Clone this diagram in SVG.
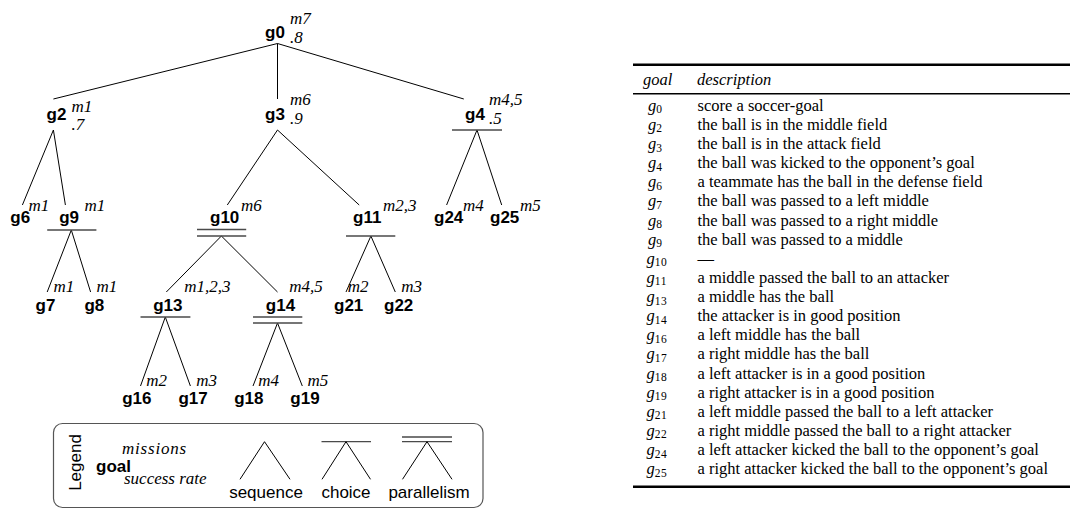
<svg xmlns="http://www.w3.org/2000/svg" width="1070" height="509" viewBox="0 0 1070 509">
<style>
.n{font-family:"Liberation Sans",Arial,sans-serif;font-weight:bold;font-size:17px;fill:#000}
.m{font-family:"Liberation Serif","Times New Roman",serif;font-style:italic;font-size:17px;fill:#000}
.e{stroke:#000;stroke-width:1;fill:none}
.bar{stroke:#4a4a4a;stroke-width:1.3;fill:none}
.lg{font-family:"Liberation Sans",Arial,sans-serif;font-size:17px;fill:#000}
.th{font-family:"Liberation Serif","Times New Roman",serif;font-style:italic;font-size:16.5px;fill:#000}
.td{font-family:"Liberation Serif","Times New Roman",serif;font-size:16.5px;fill:#000}
.tg{font-family:"Liberation Serif","Times New Roman",serif;font-style:italic;font-size:16.5px;fill:#000}
.sub{font-style:normal;font-size:11.5px;letter-spacing:0.6px}
</style>
<rect width="1070" height="509" fill="#fff"/>
<g id="connectors">
<path class="e" d="M277.5,43.5 L53.4,99 M277.5,43.5 L277.5,99 M277.5,43.5 L463.8,99"/>
<path class="e" d="M53.4,130 L22.4,205 M53.4,130 L65.4,205"/>
<path class="e" d="M277.5,130 L227.3,205 M277.5,130 L359.2,205"/>
<path class="e" d="M477,130 L446.6,205 M477,130 L501.7,205"/>
<path class="e" d="M71.3,230 L47.2,292 M71.3,230 L90.6,292"/>
<path class="e" d="M221.4,236 L166.3,292 M221.4,236 L277.5,292"/>
<path class="e" d="M370.9,236 L346,292 M370.9,236 L395.3,292"/>
<path class="e" d="M165.3,317 L140.5,386 M165.3,317 L190.4,386"/>
<path class="e" d="M277.5,323 L253,386 M277.5,323 L302.3,386"/>
</g>
<g id="g0"><text class="n" x="265" y="37.5">g0</text><text class="m" x="290" y="24">m7</text><text class="m" x="290" y="42.5">.8</text></g>
<g id="g2"><text class="n" x="46.5" y="120">g2</text><text class="m" x="71.5" y="112">m1</text><text class="m" x="71.5" y="130">.7</text></g>
<g id="g3"><text class="n" x="265" y="120">g3</text><text class="m" x="290" y="104.5">m6</text><text class="m" x="290" y="123.5">.9</text></g>
<g id="g4"><text class="n" x="465" y="120">g4</text><text class="m" x="489" y="104.5">m4,5</text><text class="m" x="489" y="123.5">.5</text><path class="bar" d="M452,130 H502"/></g>
<g id="g6"><text class="n" x="10.3" y="223">g6</text><text class="m" x="28.6" y="211">m1</text></g>
<g id="g9"><text class="n" x="59.2" y="223">g9</text><text class="m" x="84.4" y="211">m1</text><path class="bar" d="M47.2,230 H96.4"/></g>
<g id="g10"><text class="n" x="210" y="223">g10</text><text class="m" x="241" y="211">m6</text><path class="bar" d="M197,229.5 H246.2 M197,236 H246.2"/></g>
<g id="g11"><text class="n" x="353" y="223">g11</text><text class="m" x="383" y="211">m2,3</text><path class="bar" d="M346,236 H395.3"/></g>
<g id="g24"><text class="n" x="434" y="223">g24</text><text class="m" x="463" y="211">m4</text></g>
<g id="g25"><text class="n" x="490" y="223">g25</text><text class="m" x="520" y="211">m5</text></g>
<g id="g7"><text class="n" x="35.5" y="311">g7</text><text class="m" x="53.4" y="291.5">m1</text></g>
<g id="g8"><text class="n" x="84.4" y="311">g8</text><text class="m" x="96.4" y="291.5">m1</text></g>
<g id="g13"><text class="n" x="153.2" y="311">g13</text><text class="m" x="184.2" y="291.5">m1,2,3</text><path class="bar" d="M140.5,317 H190.4"/></g>
<g id="g14"><text class="n" x="265.8" y="311">g14</text><text class="m" x="289.3" y="291.5">m4,5</text><path class="bar" d="M253,317 H302.3 M253,323 H302.3"/></g>
<g id="g21"><text class="n" x="334" y="311">g21</text><text class="m" x="347.8" y="291.5">m2</text></g>
<g id="g22"><text class="n" x="384" y="311">g22</text><text class="m" x="401.2" y="291.5">m3</text></g>
<g id="g16"><text class="n" x="122.2" y="404">g16</text><text class="m" x="146.3" y="386">m2</text></g>
<g id="g17"><text class="n" x="178.4" y="404">g17</text><text class="m" x="196.3" y="386">m3</text></g>
<g id="g18"><text class="n" x="234.2" y="404">g18</text><text class="m" x="258.3" y="386">m4</text></g>
<g id="g19"><text class="n" x="290.3" y="404">g19</text><text class="m" x="307.5" y="386">m5</text></g>
<g id="legend">
<rect x="53.5" y="423.5" width="429.5" height="84" rx="9" fill="none" stroke="#555" stroke-width="1.2"/>
<text class="lg" transform="translate(81,462.5) rotate(-90)" text-anchor="middle">Legend</text>
<text class="m" x="122" y="454" font-size="18" letter-spacing="0.8">missions</text>
<text class="n" x="96" y="472">goal</text>
<text class="m" x="124" y="483.5">success rate</text>
<path class="e" d="M264.5,441.7 L240,479.3 M264.5,441.7 L290,479.3"/>
<text class="lg" x="266" y="498" text-anchor="middle">sequence</text>
<path class="bar" d="M321.5,441.7 H371"/>
<path class="e" d="M346,441.7 L322,479.3 M346,441.7 L370.5,479.3"/>
<text class="lg" x="346" y="498" text-anchor="middle">choice</text>
<path class="bar" d="M402,437 H452 M402,441.7 H452"/>
<path class="e" d="M427,441.7 L402.5,479.3 M427,441.7 L452,479.3"/>
<text class="lg" x="429" y="498" text-anchor="middle">parallelism</text>
</g>
<g id="table">
<path d="M633,64.7 H1070" stroke="#000" stroke-width="2.4"/>
<path d="M633,93.7 H1070" stroke="#000" stroke-width="1.5"/>
<path d="M633,486.7 H1070" stroke="#000" stroke-width="2.6"/>
<text class="th" x="643" y="85">goal</text>
<text class="th" x="697" y="85">description</text>
<text class="tg" x="648" y="110.8">g<tspan class="sub" dy="2.5">0</tspan></text><text class="td" x="697.5" y="110.8">score a soccer-goal</text>
<text class="tg" x="648" y="129.9">g<tspan class="sub" dy="2.5">2</tspan></text><text class="td" x="697.5" y="129.9">the ball is in the middle field</text>
<text class="tg" x="648" y="149">g<tspan class="sub" dy="2.5">3</tspan></text><text class="td" x="697.5" y="149">the ball is in the attack field</text>
<text class="tg" x="648" y="168.2">g<tspan class="sub" dy="2.5">4</tspan></text><text class="td" x="697.5" y="168.2">the ball was kicked to the opponent’s goal</text>
<text class="tg" x="648" y="187.3">g<tspan class="sub" dy="2.5">6</tspan></text><text class="td" x="697.5" y="187.3">a teammate has the ball in the defense field</text>
<text class="tg" x="648" y="206.4">g<tspan class="sub" dy="2.5">7</tspan></text><text class="td" x="697.5" y="206.4">the ball was passed to a left middle</text>
<text class="tg" x="648" y="225.5">g<tspan class="sub" dy="2.5">8</tspan></text><text class="td" x="697.5" y="225.5">the ball was passed to a right middle</text>
<text class="tg" x="648" y="244.6">g<tspan class="sub" dy="2.5">9</tspan></text><text class="td" x="697.5" y="244.6">the ball was passed to a middle</text>
<text class="tg" x="646.5" y="263.8">g<tspan class="sub" dy="2.5">10</tspan></text><text class="td" x="697.5" y="263.8">—</text>
<text class="tg" x="646.5" y="282.9">g<tspan class="sub" dy="2.5">11</tspan></text><text class="td" x="697.5" y="282.9">a middle passed the ball to an attacker</text>
<text class="tg" x="646.5" y="302">g<tspan class="sub" dy="2.5">13</tspan></text><text class="td" x="697.5" y="302">a middle has the ball</text>
<text class="tg" x="646.5" y="321.1">g<tspan class="sub" dy="2.5">14</tspan></text><text class="td" x="697.5" y="321.1">the attacker is in good position</text>
<text class="tg" x="646.5" y="340.2">g<tspan class="sub" dy="2.5">16</tspan></text><text class="td" x="697.5" y="340.2">a left middle has the ball</text>
<text class="tg" x="646.5" y="359.4">g<tspan class="sub" dy="2.5">17</tspan></text><text class="td" x="697.5" y="359.4">a right middle has the ball</text>
<text class="tg" x="646.5" y="378.5">g<tspan class="sub" dy="2.5">18</tspan></text><text class="td" x="697.5" y="378.5">a left attacker is in a good position</text>
<text class="tg" x="646.5" y="397.6">g<tspan class="sub" dy="2.5">19</tspan></text><text class="td" x="697.5" y="397.6">a right attacker is in a good position</text>
<text class="tg" x="646.5" y="416.7">g<tspan class="sub" dy="2.5">21</tspan></text><text class="td" x="697.5" y="416.7">a left middle passed the ball to a left attacker</text>
<text class="tg" x="646.5" y="435.8">g<tspan class="sub" dy="2.5">22</tspan></text><text class="td" x="697.5" y="435.8">a right middle passed the ball to a right attacker</text>
<text class="tg" x="646.5" y="455">g<tspan class="sub" dy="2.5">24</tspan></text><text class="td" x="697.5" y="455">a left attacker kicked the ball to the opponent’s goal</text>
<text class="tg" x="646.5" y="474.1">g<tspan class="sub" dy="2.5">25</tspan></text><text class="td" x="697.5" y="474.1">a right attacker kicked the ball to the opponent’s goal</text>
</g>
</svg>
